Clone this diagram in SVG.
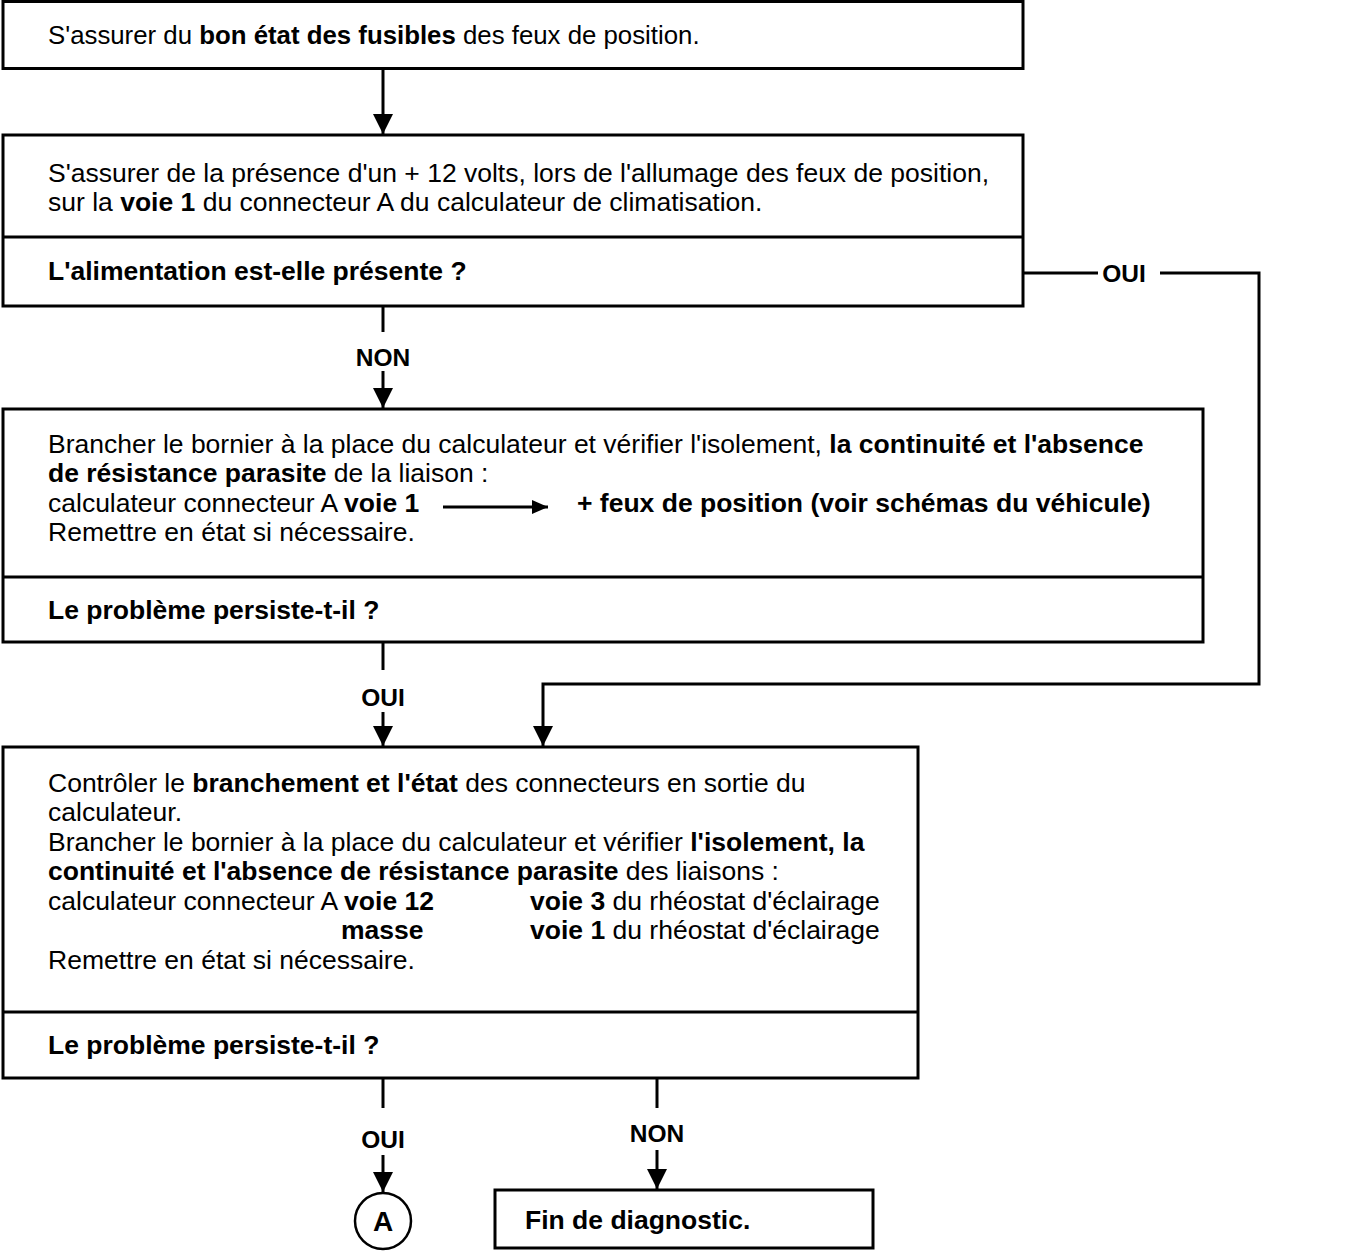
<svg xmlns="http://www.w3.org/2000/svg" width="1365" height="1253" viewBox="0 0 1365 1253">
<defs>
<style>
text{font-family:"Liberation Sans",Arial,Helvetica,sans-serif;fill:#000}
.t{font-size:26.5px}
.t1{font-size:25.8px}
.b{font-weight:bold}
.lbl{font-size:24.5px;font-weight:bold;text-anchor:middle}
.box{fill:#fff;stroke:#000;stroke-width:3}
.ln{fill:none;stroke:#000;stroke-width:3}
</style>
<marker id="ah" markerWidth="20" markerHeight="20" refX="20" refY="10" orient="auto" markerUnits="userSpaceOnUse" viewBox="0 0 20 20">
<path d="M0,0 L20,10 L0,20 Z" fill="#000"/>
</marker>
<marker id="ahs" markerWidth="16" markerHeight="14" refX="16" refY="7" orient="auto" markerUnits="userSpaceOnUse" viewBox="0 0 16 14">
<path d="M0,0 L16,7 L0,14 Z" fill="#000"/>
</marker>
</defs>
<rect width="1365" height="1253" fill="#fff"/>

<g id="connectors">
<line class="ln" x1="383" y1="70" x2="383" y2="134" marker-end="url(#ah)"/>
<line class="ln" x1="383" y1="306" x2="383" y2="332"/>
<line class="ln" x1="383" y1="371" x2="383" y2="408" marker-end="url(#ah)"/>
<line class="ln" x1="383" y1="642" x2="383" y2="670"/>
<line class="ln" x1="383" y1="712" x2="383" y2="746" marker-end="url(#ah)"/>
<polyline class="ln" points="1023,273 1098,273"/>
<polyline class="ln" points="1160,273 1259,273 1259,684 543,684 543,746" marker-end="url(#ah)"/>
<line class="ln" x1="383" y1="1078" x2="383" y2="1108"/>
<line class="ln" x1="383" y1="1155" x2="383" y2="1192" marker-end="url(#ah)"/>
<line class="ln" x1="657" y1="1078" x2="657" y2="1108"/>
<line class="ln" x1="657" y1="1150" x2="657" y2="1189" marker-end="url(#ah)"/>
<text class="lbl" x="1124" y="282">OUI</text>
<text class="lbl" x="383" y="366">NON</text>
<text class="lbl" x="383" y="706">OUI</text>
<text class="lbl" x="383" y="1148">OUI</text>
<text class="lbl" x="657" y="1142">NON</text>
</g>

<g id="n1">
<rect class="box" x="3" y="1.5" width="1020" height="67"/>
<text class="t1" x="48" y="44">S'assurer du <tspan class="b">bon état des fusibles</tspan> des feux de position.</text>
</g>

<g id="n2">
<rect class="box" x="3" y="135" width="1020" height="171"/>
<line class="ln" x1="3" y1="237" x2="1023" y2="237"/>
<text class="t" x="48" y="182">S'assurer de la présence d'un + 12 volts, lors de l'allumage des feux de position,</text>
<text class="t" x="48" y="211">sur la <tspan class="b">voie 1</tspan> du connecteur A du calculateur de climatisation.</text>
<text class="t b" x="48" y="280">L'alimentation est-elle présente ?</text>
</g>

<g id="n3">
<rect class="box" x="3" y="409" width="1200" height="233"/>
<line class="ln" x1="3" y1="577" x2="1203" y2="577"/>
<text class="t" x="48" y="453">Brancher le bornier à la place du calculateur et vérifier l'isolement, <tspan class="b">la continuité et l'absence</tspan></text>
<text class="t b" x="48" y="482">de résistance parasite<tspan font-weight="normal"> de la liaison :</tspan></text>
<text class="t" x="48" y="512">calculateur connecteur A <tspan class="b">voie 1</tspan></text>
<line class="ln" x1="443" y1="507" x2="548" y2="507" marker-end="url(#ahs)"/>
<text class="t b" x="577" y="512">+ feux de position (voir schémas du véhicule)</text>
<text class="t" x="48" y="541">Remettre en état si nécessaire.</text>
<text class="t b" x="48" y="619">Le problème persiste-t-il ?</text>
</g>

<g id="n4">
<rect class="box" x="3" y="747" width="915" height="331"/>
<line class="ln" x1="3" y1="1012" x2="918" y2="1012"/>
<text class="t" x="48" y="792">Contrôler le <tspan class="b">branchement et l'état</tspan> des connecteurs en sortie du</text>
<text class="t" x="48" y="821">calculateur.</text>
<text class="t" x="48" y="851">Brancher le bornier à la place du calculateur et vérifier <tspan class="b">l'isolement, la</tspan></text>
<text class="t b" x="48" y="880">continuité et l'absence de résistance parasite<tspan font-weight="normal"> des liaisons :</tspan></text>
<text class="t" x="48" y="910">calculateur connecteur A <tspan class="b">voie 12</tspan></text>
<text class="t" x="530" y="910"><tspan class="b">voie 3</tspan> du rhéostat d'éclairage</text>
<text class="t b" x="341" y="939">masse</text>
<text class="t" x="530" y="939"><tspan class="b">voie 1</tspan> du rhéostat d'éclairage</text>
<text class="t" x="48" y="969">Remettre en état si nécessaire.</text>
<text class="t b" x="48" y="1054">Le problème persiste-t-il ?</text>
</g>

<g id="nA">
<circle cx="383" cy="1221" r="28" fill="#fff" stroke="#000" stroke-width="2.5"/>
<text x="383" y="1231" font-size="28" font-weight="bold" text-anchor="middle">A</text>
</g>

<g id="nEnd">
<rect class="box" x="495" y="1190" width="378" height="58"/>
<text class="t b" x="525" y="1229">Fin de diagnostic.</text>
</g>
</svg>
